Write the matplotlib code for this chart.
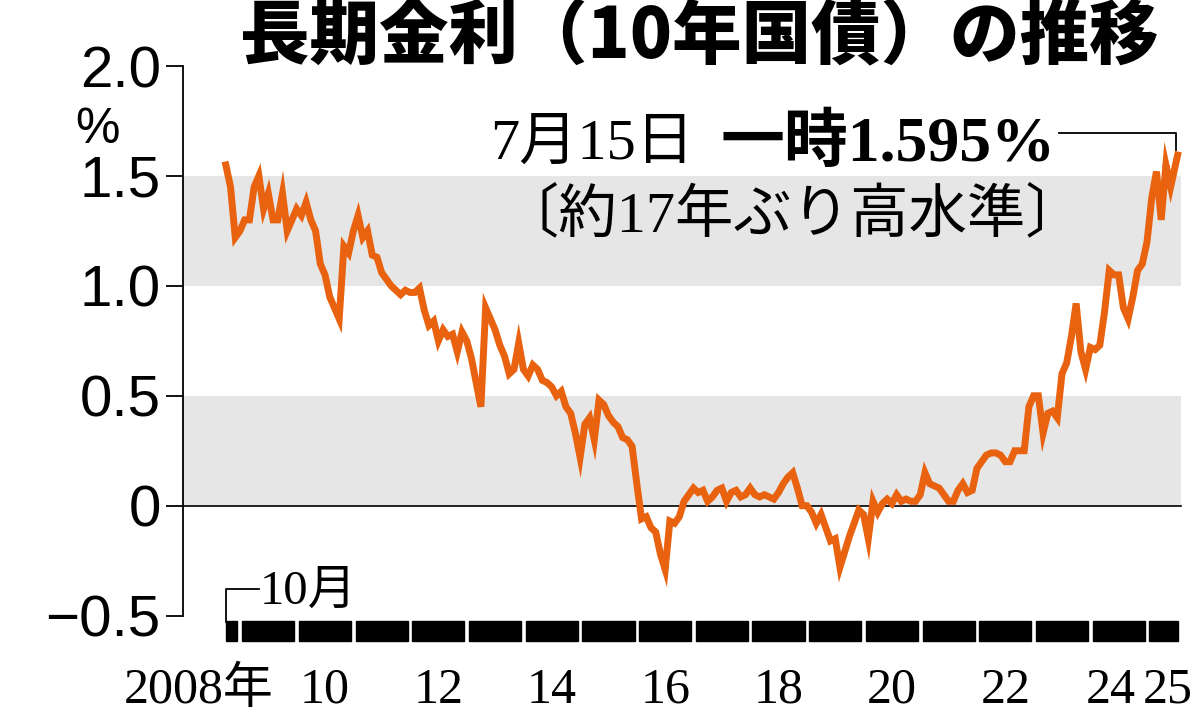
import matplotlib
matplotlib.use("Agg")
import matplotlib.pyplot as plt
import numpy as np

# monthly 10y JGB yield, Oct 2008 .. Jul 2025 (%)
y2008 = [1.55, 1.45, 1.22]
y2009 = [1.25, 1.30, 1.30, 1.45, 1.50, 1.35, 1.42, 1.30, 1.30, 1.42, 1.25, 1.30]
y2010 = [1.35, 1.32, 1.38, 1.30, 1.25, 1.10, 1.05, 0.95, 0.90, 0.85, 1.18, 1.15]
y2011 = [1.25, 1.32, 1.22, 1.25, 1.14, 1.13, 1.06, 1.03, 1.00, 0.98, 0.96, 0.98]
y2012 = [0.97, 0.97, 0.99, 0.89, 0.82, 0.84, 0.75, 0.80, 0.77, 0.78, 0.70, 0.79]
y2013 = [0.75, 0.67, 0.56, 0.45, 0.90, 0.85, 0.80, 0.73, 0.68, 0.60, 0.62, 0.74]
y2014 = [0.62, 0.59, 0.64, 0.62, 0.57, 0.56, 0.54, 0.50, 0.52, 0.45, 0.42, 0.33]
y2015 = [0.22, 0.37, 0.40, 0.30, 0.48, 0.46, 0.41, 0.38, 0.36, 0.31, 0.30, 0.27]
y2016 = [0.10, -0.06, -0.05, -0.10, -0.12, -0.22, -0.29, -0.07, -0.08, -0.05, 0.02, 0.05]
y2017 = [0.08, 0.06, 0.07, 0.02, 0.04, 0.07, 0.08, 0.02, 0.06, 0.07, 0.04, 0.05]
y2018 = [0.08, 0.05, 0.04, 0.05, 0.04, 0.03, 0.06, 0.10, 0.13, 0.15, 0.08, 0.00]
y2019 = [0.00, -0.03, -0.08, -0.04, -0.10, -0.16, -0.15, -0.28, -0.21, -0.14, -0.08, -0.02]
y2020 = [-0.04, -0.15, 0.02, -0.03, 0.01, 0.03, 0.01, 0.05, 0.02, 0.03, 0.02, 0.02]
y2021 = [0.05, 0.15, 0.10, 0.09, 0.08, 0.05, 0.02, 0.02, 0.07, 0.10, 0.06, 0.07]
y2022 = [0.17, 0.20, 0.23, 0.24, 0.24, 0.23, 0.20, 0.20, 0.25, 0.25, 0.25, 0.45]
y2023 = [0.50, 0.50, 0.33, 0.42, 0.43, 0.40, 0.60, 0.65, 0.77, 0.92, 0.70, 0.62]
y2024 = [0.72, 0.71, 0.73, 0.88, 1.07, 1.05, 1.05, 0.90, 0.85, 0.95, 1.07, 1.10]
y2025 = [1.20, 1.40, 1.52, 1.30, 1.55, 1.45, 1.595]
yields = (y2008 + y2009 + y2010 + y2011 + y2012 + y2013 + y2014 + y2015 + y2016 +
          y2017 + y2018 + y2019 + y2020 + y2021 + y2022 + y2023 + y2024 + y2025)
start_year = 2008.75
years = list(range(2009, 2026))
year_labels = ["10", "12", "14", "16", "18", "20", "22", "24", "25"]
label_years = [2010, 2012, 2014, 2016, 2018, 2020, 2022, 2024, 2025]

x = start_year + np.arange(len(yields)) / 12.0
x[-1] = 2025.54

JP = ["Noto Sans CJK JP", "DejaVu Sans"]
SERIF = ["Liberation Serif", "Noto Sans CJK JP"]
orange = "#E8620F"

fig = plt.figure(figsize=(12, 7.19), dpi=100)
ax = fig.add_axes([183/1200, 1-642/719, (1185-183)/1200, (642-66)/719])
ax.set_xlim(2007.995, 2025.67)
ax.set_ylim(-0.62, 2.0)

xr = 2025.6
for lo, hi in [(1.0, 1.5), (0.0, 0.5)]:
    ax.fill_between([2007.995, xr], lo, hi, color="#E6E6E6", lw=0, zorder=0)
ax.plot([2007.995, xr], [0, 0], color="black", lw=1.2, zorder=1)
ax.plot(x, yields, color=orange, lw=5, solid_joinstyle="miter", zorder=3)

# year bar
ax.add_patch(plt.Rectangle((start_year, -0.615), 0.2, 0.09, color="black", clip_on=False))
for yr in years:
    end = min(yr + 1, 2025.54)
    w = end - yr - 0.08 if yr < 2025 else end - yr - 0.04
    ax.add_patch(plt.Rectangle((yr + 0.04, -0.615), w, 0.09, color="black", clip_on=False))
for lab, yr in zip(year_labels, label_years):
    cx = yr + (0.5 if yr < 2024 else (0.36 if yr == 2024 else 0.36))
    ax.text(cx, -0.84, lab, ha="center", va="center", fontsize=36, family=SERIF, clip_on=False)
ax.text(2009.6, -0.84, "2008年", ha="right", va="center", fontsize=36, family=SERIF, clip_on=False)
ax.plot([start_year, start_year, 2009.33], [-0.53, -0.38, -0.38], color="black", lw=1.3, clip_on=False)
ax.text(2009.35, -0.39, "10月", ha="left", va="center", fontsize=35, family=SERIF)

for s in ["top", "right", "bottom"]:
    ax.spines[s].set_visible(False)
ax.spines["left"].set_bounds(-0.5, 2.0)
ax.spines["left"].set_linewidth(1.3)
ax.set_xticks([])
ax.set_yticks([-0.5, 0, 0.5, 1.0, 1.5, 2.0])
ax.set_yticklabels(["−0.5", "0", "0.5", "1.0", "1.5", "2.0"], fontsize=42, family="Liberation Sans")
ax.tick_params(axis="y", length=12, width=1.3, pad=4)
ax.text(-0.085, 1.71, "%", transform=ax.get_yaxis_transform(), ha="center", va="center", fontsize=36,
        family="Liberation Sans")

fig.text(0.583, 0.948, "長期金利（10年国債）の推移", ha="center", va="center", fontsize=50,
         fontweight="black", family=JP)
ax.text(2013.41, 1.64, "7月15日", ha="left", va="center", fontsize=42, family=SERIF)
ax.text(2017.47, 1.64, "一時1.595%", ha="left", va="center", fontsize=46, fontweight="bold", family=SERIF)
ax.text(2013.6, 1.32, "〔約17年ぶり高水準〕", ha="left", va="center", fontsize=42, family=SERIF)
ax.plot([2023.45, 2025.52, 2025.52], [1.695, 1.695, 1.62], color="black", lw=1.3)

fig.savefig("out.png", dpi=100, facecolor="white")
